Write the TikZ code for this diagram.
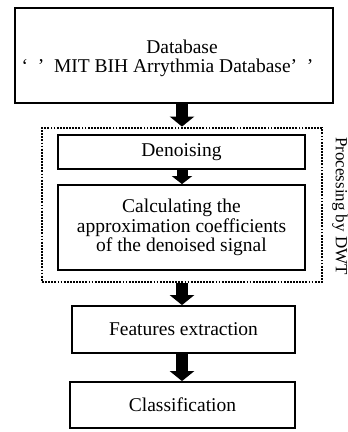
\documentclass[tikz,border=0pt]{standalone}
\usepackage{fontspec}
\setmainfont{Liberation Serif}
\usetikzlibrary{arrows.meta}
\begin{document}
\begin{tikzpicture}[x=1pt, y=-1pt,
  box/.style={draw, line width=1.8pt, inner sep=0pt, align=center},
  txt/.style={font=\fontsize{19.5}{19.5}\selectfont},
  blockarrow/.style={line width=12pt, -{Triangle[width=24pt,length=10pt]}},
  dotbox/.style={draw, line width=2.8pt, dash pattern=on 1.8pt off 1.3pt, inner sep=0pt}]
\useasboundingbox (0,0) rectangle (348,432);

% source database
\node[box, line width=2.6pt, minimum width=318pt, minimum height=95pt] (db) at (174,55.5) {};
\node[txt, anchor=base] (dbtitle) at (182,53) {Database};
\node[txt, anchor=base] (dbsource) at (167.5,72) {‘\ \ ’\ \ MIT BIH Arrythmia Database’\ \ ’};

% DWT processing group
\node[dotbox, minimum width=280pt, minimum height=154pt] (dwt) at (182,205) {};
\node[box, txt, minimum width=247pt, minimum height=34pt] (den) at (181.5,152) {Denoising};
\node[box, txt, minimum width=247pt, minimum height=85pt] (calc) at (181.5,227.5)
  {Calculating the\\approximation coefficients\\of the denoised signal};
\node[font=\fontsize{17}{17}\selectfont, rotate=-90] (dwtlabel) at (340,206) {Processing by DWT};

% later stages
\node[box, txt, minimum width=223pt, minimum height=47pt] (feat) at (183.5,329.5) {Features extraction};
\node[box, txt, minimum width=225pt, minimum height=46pt] (cls) at (182.5,405) {Classification};

% block arrows
\draw[blockarrow] (db.south -| dwt.north) -- (dwt.north);
\draw[blockarrow, line width=11pt, -{Triangle[width=20pt,length=8pt]}] (den.south -| dwt.north) -- (calc.north -| dwt.north);
\draw[blockarrow] (dwt.south) -- (feat.north -| dwt.south);
\draw[blockarrow] (feat.south -| dwt.south) -- (cls.north -| dwt.south);
\end{tikzpicture}
\end{document}
